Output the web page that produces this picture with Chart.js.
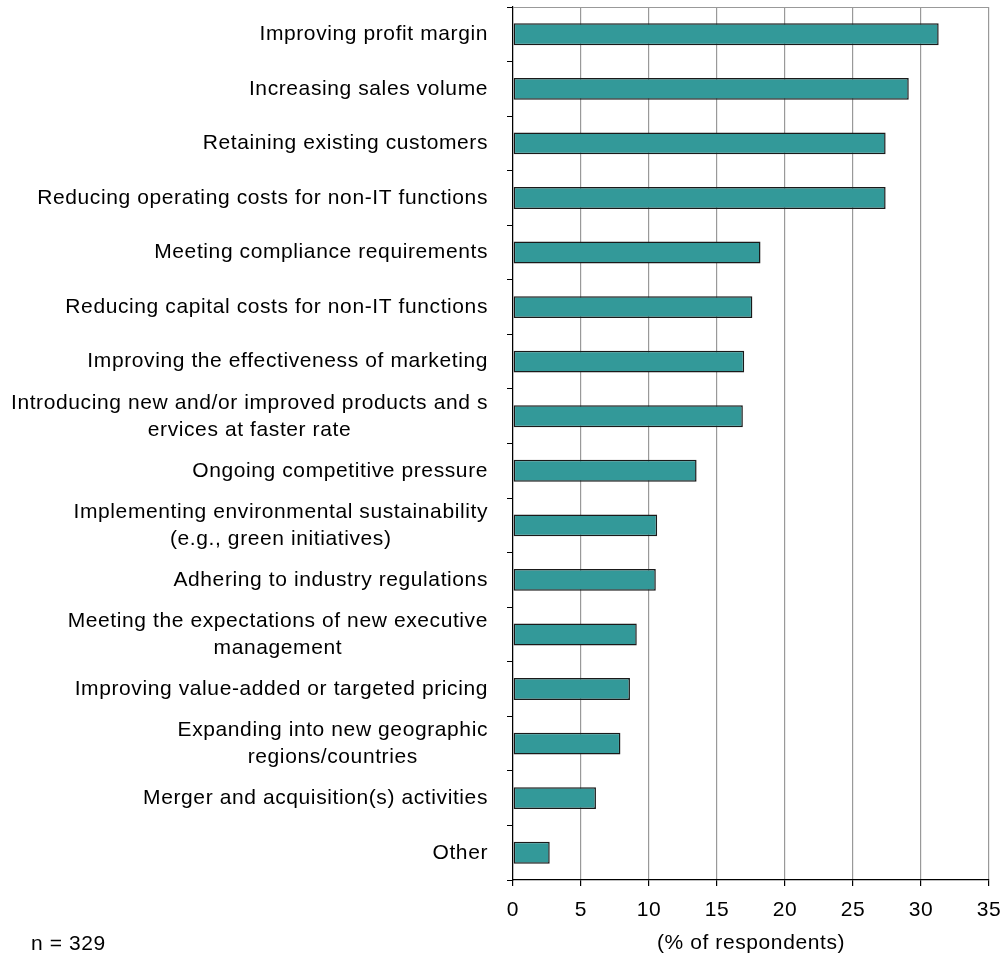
<!DOCTYPE html>
<html>
<head>
<meta charset="utf-8">
<script src="https://cdn.jsdelivr.net/npm/chart.js@4.4.1/dist/chart.umd.min.js"></script>
<style>
  html, body { margin: 0; padding: 0; background: #fff; }
  #wrap { width: 1000px; height: 956px; }
</style>
</head>
<body>
<div id="wrap"><canvas id="driversChart"></canvas></div>
<script>
// categories, top to bottom
const categories = [
    ["Improving profit margin"],
    ["Increasing sales volume"],
    ["Retaining existing customers"],
    ["Reducing operating costs for non-IT functions"],
    ["Meeting compliance requirements"],
    ["Reducing capital costs for non-IT functions"],
    ["Improving the effectiveness of marketing"],
    ["Introducing new and/or improved products and s", "ervices at faster rate"],
    ["Ongoing competitive pressure"],
    ["Implementing environmental sustainability", "(e.g., green initiatives)"],
    ["Adhering to industry regulations"],
    ["Meeting the expectations of new executive", "management"],
    ["Improving value-added or targeted pricing"],
    ["Expanding into new geographic", "regions/countries"],
    ["Merger and acquisition(s) activities"],
    ["Other"]
];

// % of respondents
const respondents = [31.3, 29.1, 27.4, 27.4, 18.2, 17.6, 17.0, 16.9, 13.5, 10.6, 10.5, 9.1, 8.6, 7.9, 6.1, 2.7];

const xTicks = [0, 5, 10, 15, 20, 25, 30, 35];
const xTitle = "(% of respondents)";
const sampleNote = "n = 329";

const FONT = "Liberation Sans, Arial, sans-serif";
const FONT_SIZE = 21;
const SPACING = "0.6px";

// draws the category labels (multi-line ones centred on themselves), the top border and the n note
const labelPlugin = {
    id: "labelPlugin",
    beforeDraw(chart) {
        chart.ctx.letterSpacing = SPACING;
    },
    afterDraw(chart) {
        const ctx = chart.ctx;
        const area = chart.chartArea;
        const yScale = chart.scales.y;
        ctx.save();
        ctx.letterSpacing = SPACING;
        ctx.font = FONT_SIZE + "px " + FONT;
        ctx.fillStyle = "#000";
        ctx.textAlign = "center";
        ctx.textBaseline = "middle";
        const right = area.left - 25;
        const lineH = 27;
        categories.forEach((lines, i) => {
            const y = yScale.getPixelForValue(i);
            const w = Math.max(...lines.map((l) => ctx.measureText(l).width));
            lines.forEach((line, j) => {
                ctx.fillText(line, right - w / 2, y + (j - (lines.length - 1) / 2) * lineH);
            });
        });

        ctx.textAlign = "left";
        ctx.fillText(sampleNote, 31, 944);

        ctx.strokeStyle = "#999";
        ctx.lineWidth = 1;
        ctx.beginPath();
        ctx.moveTo(area.left, area.top + 0.5);
        ctx.lineTo(area.right, area.top + 0.5);
        ctx.stroke();
        ctx.restore();
    }
};

const ctx = document.getElementById("driversChart").getContext("2d");
new Chart(ctx, {
    type: "bar",
    data: {
        labels: categories,
        datasets: [
            {
                data: respondents,
                backgroundColor: "#339999",
                borderColor: "#1a1a1a",
                borderWidth: 1.5,
                borderSkipped: false,
                categoryPercentage: 1,
                barPercentage: 0.4,
            },
        ],
    },
    options: {
        indexAxis: "y",
        responsive: true,
        maintainAspectRatio: false,
        animation: false,
        layout: { padding: { top: 7, right: 0, bottom: 0, left: 0 } },
        plugins: {
            legend: { display: false },
            tooltip: { enabled: false },
        },
        scales: {
            x: {
                min: 0,
                max: 35,
                afterBuildTicks: (scale) => {
                    scale.ticks = xTicks.map((v) => ({ value: v }));
                },
                grid: {
                    color: "#999",
                    tickColor: "#000",
                    tickLength: 6,
                    lineWidth: 1.2,
                },
                border: { color: "#000", width: 1.2 },
                ticks: {
                    color: "#000",
                    font: { family: FONT, size: FONT_SIZE },
                    padding: 12,
                    maxRotation: 0,
                },
                title: {
                    display: true,
                    text: xTitle,
                    color: "#000",
                    font: { family: FONT, size: FONT_SIZE },
                    padding: { top: 4, bottom: 0 },
                },
                afterFit: (scale) => {
                    scale.height = 76;
                    scale.paddingRight = 11;
                },
            },
            y: {
                grid: {
                    display: true,
                    drawOnChartArea: false,
                    offset: true,
                    tickColor: "#000",
                    tickLength: 6,
                },
                border: { color: "#000", width: 1.2 },
                ticks: {
                    color: "transparent",
                    font: { family: FONT, size: 1 },
                },
                afterFit: (scale) => {
                    scale.width = 513;
                },
            },
        },
    },
    plugins: [labelPlugin],
});
</script>
</body>
</html>
